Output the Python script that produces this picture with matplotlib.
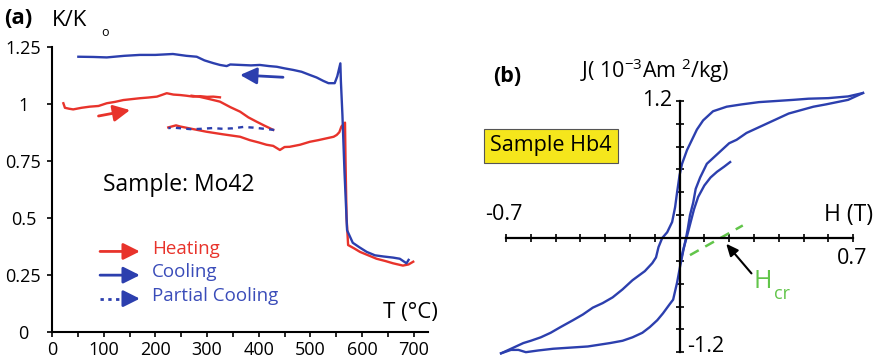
import numpy as np
import matplotlib
matplotlib.use("Agg")
import matplotlib.pyplot as plt

plt.rcParams['font.family'] = ['Open Sans', 'DejaVu Sans']
plt.rcParams['mathtext.fontset'] = 'custom'
plt.rcParams['mathtext.rm'] = 'Open Sans'
plt.rcParams['mathtext.it'] = 'Open Sans:italic'
plt.rcParams['mathtext.bf'] = 'Open Sans:bold'

RED = '#e8332b'
BLUE = '#2c3fae'
BLUE_TXT = '#3a4cb9'
GREEN = '#62c54a'

# ---------------- (a) susceptibility vs temperature, sample Mo42 ----------------
heat1_T = [22, 25, 33, 41, 57, 73, 90, 106, 122, 138, 154, 170, 186, 203, 212, 222, 235, 248, 260, 273, 287, 300, 312, 325]
heat1_K = [1.002, 0.982, 0.978, 0.975, 0.982, 0.987, 0.99, 1.002, 1.008, 1.016, 1.02, 1.024, 1.027, 1.031, 1.038, 1.046, 1.04, 1.038, 1.035, 1.031, 1.033, 1.03, 1.031, 1.028]

heat1b_T = [270, 286, 305, 325, 345, 364, 380, 396, 410, 422, 428]
heat1b_K = [1.035, 1.03, 1.02, 1.009, 0.985, 0.965, 0.94, 0.921, 0.905, 0.892, 0.885]

partial_T = [430, 410, 390, 370, 350, 330, 310, 290, 270, 250, 235, 225]
partial_K = [0.885, 0.89, 0.895, 0.898, 0.892, 0.89, 0.893, 0.89, 0.888, 0.892, 0.895, 0.893]

heat2_T = [225, 240, 248, 270, 299, 330, 364, 383, 400, 415, 428, 441, 450, 460, 480, 499, 515, 531, 545,
           551, 556, 560, 567, 568, 570, 573, 585, 596, 612, 628, 645, 660, 679, 690, 699]
heat2_K = [0.896, 0.905, 0.90, 0.89, 0.877, 0.866, 0.855, 0.84, 0.83, 0.82, 0.815, 0.797, 0.81, 0.811, 0.82,
           0.833, 0.84, 0.848, 0.855, 0.863, 0.875, 0.90, 0.917, 0.75, 0.5, 0.38, 0.365, 0.35, 0.335, 0.32,
           0.31, 0.30, 0.29, 0.295, 0.307]

cool_T = [690, 686, 673, 660, 641, 625, 609, 595, 582, 571, 566, 562, 559, 558, 552, 547, 535, 525, 512, 499,
          483, 467, 450, 435, 420, 402, 385, 365, 345, 338, 325, 312, 295, 280, 260, 234, 200, 170, 140, 106, 80, 51]
cool_K = [0.315, 0.30, 0.32, 0.325, 0.33, 0.335, 0.35, 0.37, 0.39, 0.445, 0.7, 0.95, 1.1, 1.177, 1.12, 1.09,
          1.09, 1.10, 1.115, 1.126, 1.14, 1.148, 1.155, 1.162, 1.165, 1.17, 1.168, 1.17, 1.172, 1.165, 1.17,
          1.178, 1.19, 1.206, 1.21, 1.218, 1.214, 1.214, 1.21, 1.203, 1.205, 1.206]

x_ticks = [0, 100, 200, 300, 400, 500, 600, 700]
y_ticks = [0, 0.25, 0.5, 0.75, 1.0, 1.25]
y_tick_labels = ['0', '0.25', '0.5', '0.75', '1', '1.25']

# ---------------- (b) hysteresis loop, sample Hb4 ----------------
desc_H = [0.74, 0.68, 0.6, 0.52, 0.46, 0.39, 0.32, 0.25, 0.19, 0.135, 0.095, 0.07, 0.05, 0.03, 0.01, 0.0,
          -0.01, -0.018, -0.03, -0.05, -0.07, -0.085, -0.095, -0.11, -0.14, -0.19, -0.23, -0.27, -0.31,
          -0.35, -0.39, -0.43, -0.48, -0.52, -0.56, -0.6, -0.63, -0.68, -0.72]
desc_J = [1.27, 1.24, 1.225, 1.22, 1.21, 1.2, 1.19, 1.17, 1.15, 1.11, 1.03, 0.95, 0.86, 0.77, 0.65, 0.55,
          0.4, 0.27, 0.14, 0.05, 0.0, -0.08, -0.17, -0.22, -0.29, -0.37, -0.45, -0.52, -0.57, -0.61, -0.67,
          -0.72, -0.78, -0.83, -0.87, -0.9, -0.92, -0.97, -1.01]

asc_H = [-0.72, -0.68, -0.65, -0.62, -0.57, -0.51, -0.44, -0.37, -0.28, -0.23, -0.19, -0.15, -0.12, -0.09,
         -0.067, -0.04, -0.026, -0.01, 0.002, 0.015, 0.026, 0.033, 0.042, 0.055, 0.065, 0.083, 0.11, 0.15,
         0.2, 0.23, 0.27, 0.31, 0.35, 0.4, 0.44, 0.49, 0.54, 0.59, 0.635, 0.68, 0.74]
asc_J = [-1.01, -0.98, -0.98, -1.0, -0.985, -0.97, -0.96, -0.95, -0.92, -0.9, -0.87, -0.83, -0.78, -0.72,
         -0.66, -0.58, -0.54, -0.39, -0.25, -0.11, 0.0, 0.08, 0.2, 0.31, 0.43, 0.53, 0.65, 0.73, 0.83, 0.86,
         0.92, 0.96, 1.0, 1.05, 1.09, 1.12, 1.15, 1.17, 1.19, 1.21, 1.27]

inner_H = [0.005, 0.015, 0.028, 0.04, 0.058, 0.075, 0.1, 0.125, 0.151, 0.18, 0.204]
inner_J = [-0.2, -0.1, 0.0, 0.1, 0.25, 0.36, 0.46, 0.53, 0.58, 0.625, 0.665]

tangent_H = [0.042, 0.255]
tangent_J = [-0.15, 0.11]

W, H = 881, 362
fig = plt.figure(figsize=(W / 100, H / 100), dpi=100)


def fpos(x, y):
    """Pixel position (from top-left) to figure fraction."""
    return x / W, 1 - y / H


# ---------- panel (a) ----------
ax1 = fig.add_axes([52 / W, 1 - 331.7 / H, (427.7 - 52) / W, (331.7 - 46.7) / H])
ax1.set_xlim(0, 727)
ax1.set_ylim(0, 1.25)
for s in ('top', 'right'):
    ax1.spines[s].set_visible(False)
for s in ('left', 'bottom'):
    ax1.spines[s].set_linewidth(1.5)

lw = 1.7
ax1.plot(heat1_T, heat1_K, color=RED, lw=lw)
ax1.plot(heat1b_T, heat1b_K, color=RED, lw=lw)
ax1.plot(heat2_T, heat2_K, color=RED, lw=lw)
ax1.plot(cool_T, cool_K, color=BLUE, lw=lw)
ax1.plot(partial_T, partial_K, color=BLUE, lw=lw, ls=(0, (2.2, 2.2)))

ax1.set_xticks(x_ticks)
ax1.set_xticks([50, 150, 250, 350, 450, 550, 650], minor=True)
ax1.set_yticks(y_ticks)
ax1.set_yticklabels(y_tick_labels)
ax1.tick_params(axis='both', which='both', direction='out', length=3.6, width=1.2, labelsize=13)
ax1.tick_params(axis='x', pad=3)
ax1.tick_params(axis='y', pad=17)
for lab in ax1.get_yticklabels():
    lab.set_horizontalalignment('center')

head = '-|>,head_length=0.5,head_width=0.25'
ax1.annotate('', xy=(151, 0.972), xytext=(90, 0.946),
             arrowprops=dict(arrowstyle=head, color=RED, lw=2, mutation_scale=20, shrinkA=0, shrinkB=0))
ax1.annotate('', xy=(364, 1.126), xytext=(447, 1.116),
             arrowprops=dict(arrowstyle=head, color=BLUE, lw=2, mutation_scale=20, shrinkA=0, shrinkB=0))

# key
ax1.annotate('', xy=(170, 0.352), xytext=(93, 0.352),
             arrowprops=dict(arrowstyle=head, color=RED, lw=2, mutation_scale=20, shrinkA=0, shrinkB=0))
ax1.annotate('', xy=(170, 0.248), xytext=(93, 0.248),
             arrowprops=dict(arrowstyle=head, color=BLUE, lw=2, mutation_scale=20, shrinkA=0, shrinkB=0))
ax1.plot([93, 148], [0.145, 0.145], color=BLUE, lw=2, ls=(0, (1.2, 1.6)))
ax1.annotate('', xy=(170, 0.145), xytext=(146, 0.145),
             arrowprops=dict(arrowstyle=head, color=BLUE, lw=2, mutation_scale=20, shrinkA=0, shrinkB=0))
ax1.text(193, 0.362, 'Heating', color=RED, fontsize=13.5, va='center', ha='left')
ax1.text(193, 0.262, 'Cooling', color=BLUE_TXT, fontsize=13.5, va='center', ha='left')
ax1.text(193, 0.157, 'Partial Cooling', color=BLUE_TXT, fontsize=13.5, va='center', ha='left')

ax1.text(99, 0.645, 'Sample: Mo42', fontsize=16.5, va='center', ha='left')
ax1.text(640, 0.086, 'T (°C)', fontsize=16, va='center', ha='left')

fig.text(*fpos(4, 19), '(a)', fontsize=16, fontweight='bold', va='center', ha='left')
fig.text(*fpos(52, 20), 'K/K', fontsize=16, va='center', ha='left')
fig.text(*fpos(101, 32), 'o', fontsize=9, va='center', ha='left')

# ---------- panel (b) ----------
ax2 = fig.add_axes([480 / W, 0, 401 / W, (362 - 85) / H])
ax2.set_xlim(-0.805, 0.8125)
ax2.set_ylim(-1.086, 1.34)
ax2.patch.set_visible(False)
for s in ('top', 'right'):
    ax2.spines[s].set_visible(False)
ax2.spines['left'].set_position(('data', 0))
ax2.spines['bottom'].set_position(('data', 0))
ax2.spines['left'].set_bounds(-1.0, 1.2)
ax2.spines['bottom'].set_bounds(-0.7, 0.7)
for s in ('left', 'bottom'):
    ax2.spines[s].set_linewidth(1.6)
ax2.set_xticks(np.round(np.arange(-0.7, 0.71, 0.1), 2))
ax2.set_yticks(np.round(np.arange(-1.0, 1.21, 0.2), 2))
ax2.tick_params(axis='both', direction='inout', length=6, width=1.2, labelleft=False, labelbottom=False)

ax2.plot(desc_H, desc_J, color=BLUE, lw=1.7)
ax2.plot(asc_H, asc_J, color=BLUE, lw=1.7)
ax2.plot(inner_H, inner_J, color=BLUE, lw=1.7)
ax2.plot(tangent_H, tangent_J, color=GREEN, lw=1.8, ls=(0, (4, 3)))
ax2.annotate('', xy=(0.188, -0.05), xytext=(0.29, -0.31),
             arrowprops=dict(arrowstyle='-|>,head_length=0.45,head_width=0.2', color='black', lw=1.5,
                             mutation_scale=16, shrinkA=0, shrinkB=0))

fig.text(*fpos(504, 215), '-0.7', fontsize=15.5, va='center', ha='center')
fig.text(*fpos(849, 215), 'H (T)', fontsize=16.5, va='center', ha='center')
fig.text(*fpos(852, 258), '0.7', fontsize=15.5, va='center', ha='center')
fig.text(*fpos(672, 101), '1.2', fontsize=15.5, va='center', ha='right')
fig.text(*fpos(687, 346), '-1.2', fontsize=15.5, va='center', ha='left')
fig.text(*fpos(580, 71), r'J( 10$^{\mathrm{-3}}$Am $^{\mathrm{2}}$/kg)', fontsize=15.5, va='center', ha='left')
fig.text(*fpos(493, 77), '(b)', fontsize=15.5, fontweight='bold', va='center', ha='left')
fig.text(*fpos(551, 146), 'Sample Hb4', fontsize=15.5, va='center', ha='center',
         bbox=dict(boxstyle='square,pad=0.3', fc='#f5e61c', ec='#555555', lw=0.8))
fig.text(*fpos(753, 282), 'H', fontsize=18, color=GREEN, va='center', ha='left')
fig.text(*fpos(774, 294), 'cr', fontsize=13, color=GREEN, va='center', ha='left')

fig.savefig('out.png', dpi=100)
